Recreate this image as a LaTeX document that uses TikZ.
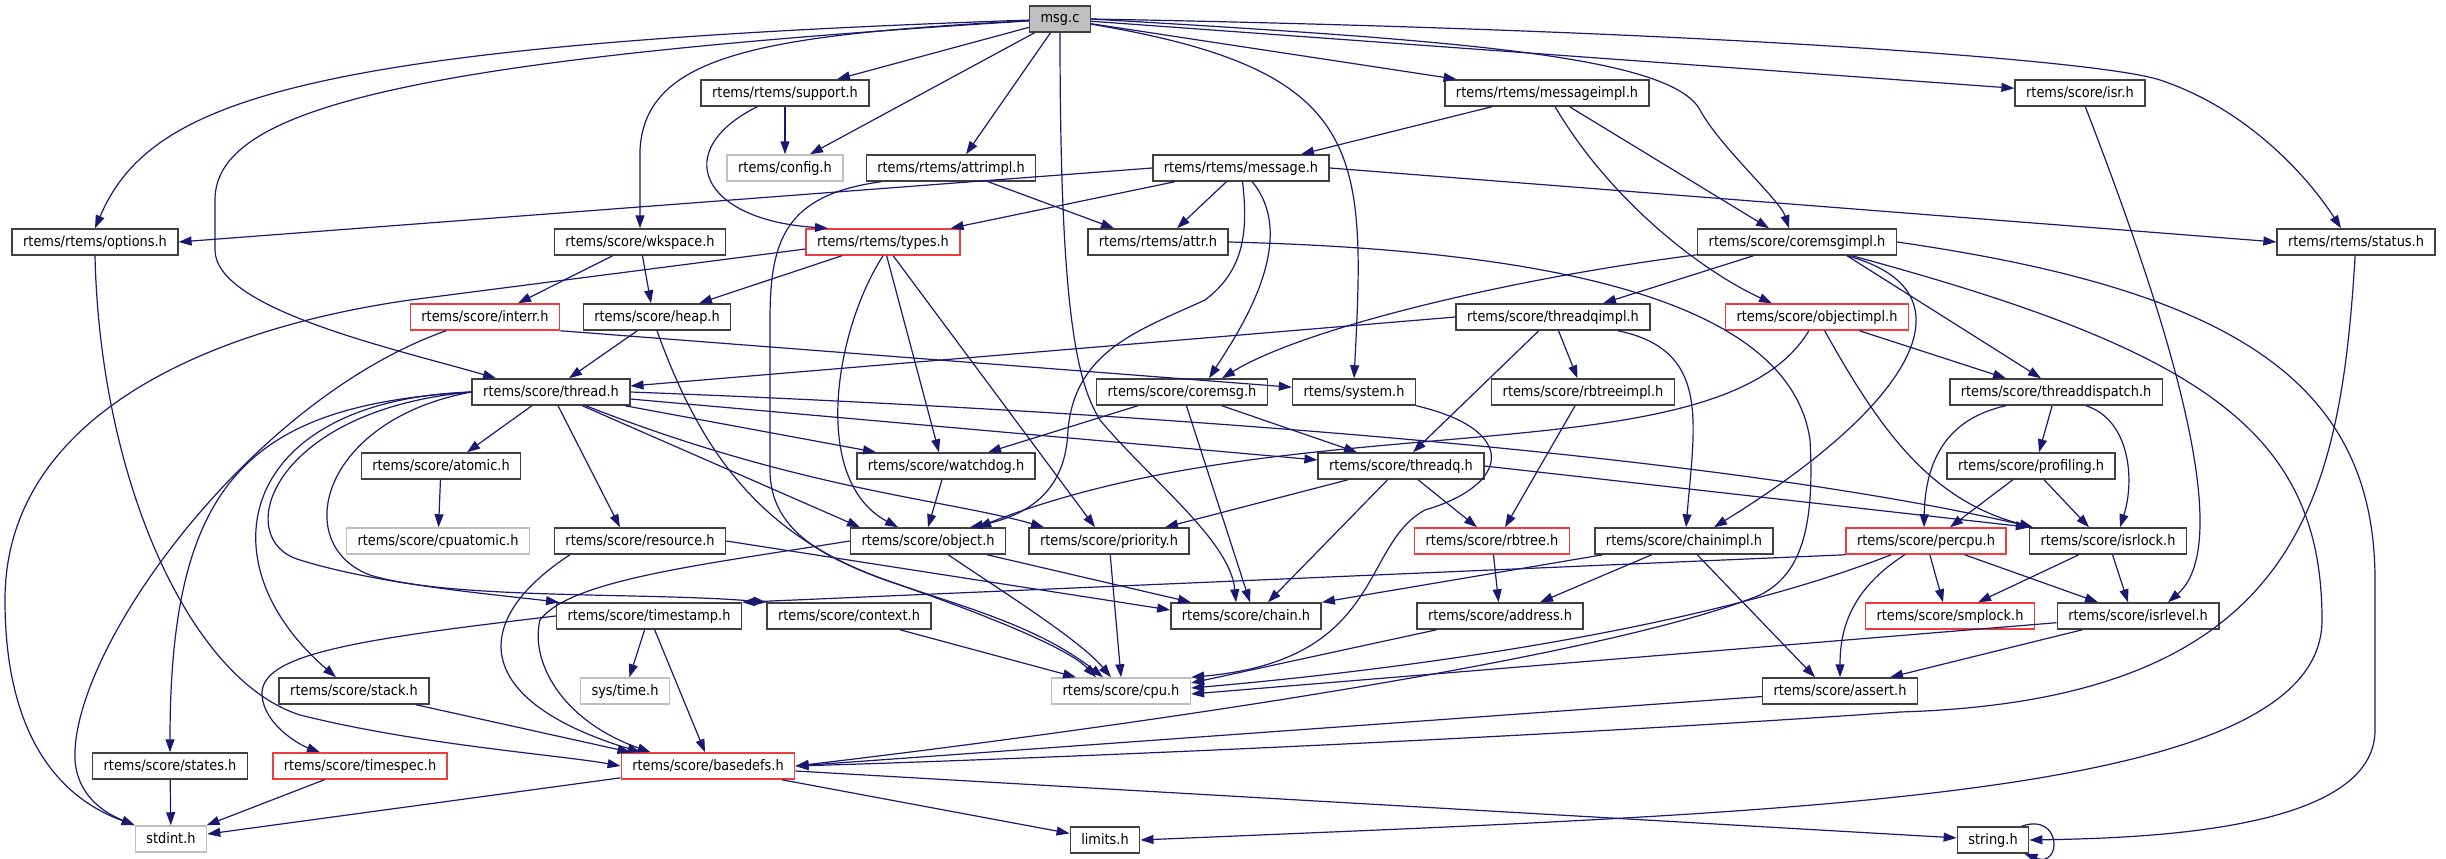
\documentclass[tikz,border=0pt]{standalone}
\usepackage{fontspec}
\setmainfont{DejaVu Sans}[FakeStretch=0.89]
\usetikzlibrary{arrows.meta}
\definecolor{edgeblue}{HTML}{191970}
\definecolor{frame}{HTML}{404040}
\definecolor{sysframe}{HTML}{BFBFBF}
\definecolor{redframe}{HTML}{F03C3C}
\def\hdr{\fontsize{14.5pt}{17pt}\selectfont}

\begin{document}
\begin{tikzpicture}[x=1pt, y=-1pt, >={Triangle[length=13pt, width=9pt]},
  header/.style={draw=frame, line width=1.5pt, fill=white, font=\hdr, minimum height=26pt,
    inner xsep=11pt, inner ysep=0pt, text height=11pt, text depth=3pt},
  redheader/.style={header, draw=redframe},
  sysheader/.style={header, draw=sysframe},
  incl/.style={->, edgeblue, line width=1.2pt}]
  \useasboundingbox (0,0) rectangle (2446,859);

  \node (msg) [header, fill=sysframe] at (1060,19) {msg.c};
  \node (support) [header] at (785,93) {rtems/rtems/support.h};
  \node (messageimpl) [header] at (1547,93) {rtems/rtems/messageimpl.h};
  \node (isr) [header] at (2080,93) {rtems/score/isr.h};
  \node (config) [sysheader] at (785,168) {rtems/config.h};
  \node (attrimpl) [header] at (951,168) {rtems/rtems/attrimpl.h};
  \node (message) [header] at (1241,168) {rtems/rtems/message.h};
  \node (options) [header] at (95,242) {rtems/rtems/options.h};
  \node (wkspace) [header] at (640,242) {rtems/score/wkspace.h};
  \node (types) [redheader] at (883,242) {rtems/rtems/types.h};
  \node (attr) [header] at (1158,242) {rtems/rtems/attr.h};
  \node (coremsgimpl) [header] at (1797,242) {rtems/score/coremsgimpl.h};
  \node (status) [header] at (2356,242) {rtems/rtems/status.h};
  \node (interr) [redheader] at (485,317) {rtems/score/interr.h};
  \node (heap) [header] at (657,317) {rtems/score/heap.h};
  \node (threadqimpl) [header] at (1553,317) {rtems/score/threadqimpl.h};
  \node (objectimpl) [redheader] at (1817,317) {rtems/score/objectimpl.h};
  \node (thread) [header] at (551,392) {rtems/score/thread.h};
  \node (coremsg) [header] at (1182,392) {rtems/score/coremsg.h};
  \node (system) [header] at (1354,392) {rtems/system.h};
  \node (rbtreeimpl) [header] at (1583,392) {rtems/score/rbtreeimpl.h};
  \node (threaddispatch) [header] at (2056,392) {rtems/score/threaddispatch.h};
  \node (atomic) [header] at (441,466) {rtems/score/atomic.h};
  \node (watchdog) [header] at (946,466) {rtems/score/watchdog.h};
  \node (threadq) [header] at (1401,466) {rtems/score/threadq.h};
  \node (profiling) [header] at (2031,466) {rtems/score/profiling.h};
  \node (cpuatomic) [sysheader] at (438,541) {rtems/score/cpuatomic.h};
  \node (resource) [header] at (640,541) {rtems/score/resource.h};
  \node (object) [header] at (928,541) {rtems/score/object.h};
  \node (priority) [header] at (1109,541) {rtems/score/priority.h};
  \node (rbtree) [redheader] at (1492,541) {rtems/score/rbtree.h};
  \node (chainimpl) [header] at (1684,541) {rtems/score/chainimpl.h};
  \node (percpu) [redheader] at (1926,541) {rtems/score/percpu.h};
  \node (isrlock) [header] at (2108,541) {rtems/score/isrlock.h};
  \node (timestamp) [header] at (649,616) {rtems/score/timestamp.h};
  \node (context) [header] at (849,616) {rtems/score/context.h};
  \node (chain) [header] at (1246,616) {rtems/score/chain.h};
  \node (address) [header] at (1500,616) {rtems/score/address.h};
  \node (smplock) [redheader] at (1950,616) {rtems/score/smplock.h};
  \node (isrlevel) [header] at (2138,616) {rtems/score/isrlevel.h};
  \node (stack) [header] at (354,691) {rtems/score/stack.h};
  \node (systime) [sysheader] at (625,691) {sys/time.h};
  \node (cpu) [sysheader] at (1121,691) {rtems/score/cpu.h};
  \node (assert) [header] at (1840,691) {rtems/score/assert.h};
  \node (states) [header] at (170,766) {rtems/score/states.h};
  \node (timespec) [redheader] at (360,766) {rtems/score/timespec.h};
  \node (basedefs) [redheader] at (708,766) {rtems/score/basedefs.h};
  \node (stdint) [sysheader] at (171,839) {stdint.h};
  \node (limits) [header] at (1105,840) {limits.h};
  \node (string) [header] at (1993,840) {string.h};

  \draw[incl] (msg) .. controls (300,45) and (150,100) .. (options.north);
  \draw[incl] (msg) .. controls (400,60) and (215,110) .. (215,200) -- (215,250) .. controls (215,310) and (400,350) .. ([xshift=-55pt]thread.north);
  \draw[incl] (msg) .. controls (760,35) and (645,55) .. (640,150) -- (wkspace.north);
  \draw[incl] (msg) -- ([xshift=52pt]support.north);
  \draw[incl] (msg) -- ([xshift=25pt]config.north);
  \draw[incl] (msg) -- ([xshift=15pt]attrimpl.north);
  \draw[incl] (msg.south) .. controls (1060,300) and (1075,380) .. (1100,420) .. controls (1150,480) and (1230,540) .. ([xshift=-10pt]chain.north);
  \draw[incl] (msg) -- (messageimpl);
  \draw[incl] (msg.east) .. controls (1450,40) and (1670,55) .. (1700,110) .. controls (1720,147) and (1780,200) .. ([xshift=-8pt]coremsgimpl.north);
  \draw[incl] (msg) .. controls (1366,70) and (1366,150) .. (system.north);
  \draw[incl] (msg) -- (isr);
  \draw[incl] (msg.east) .. controls (1700,30) and (2100,60) .. (2160,80) .. controls (2250,110) and (2310,180) .. ([xshift=-15pt]status.north);

  \draw[incl] (support) -- (config);
  \draw[incl] (support) .. controls (670,150) and (700,220) .. ([xshift=-55pt]types.north);
  \draw[incl] (attrimpl) -- ([xshift=-44pt]attr.north);
  \draw[incl] ([xshift=-70pt]attrimpl.south) .. controls (785,195) and (770,240) .. (770,320) -- (770,470) .. controls (770,590) and (980,580) .. ([xshift=-18pt]cpu.north);

  \draw[incl] (message.west) -- (options.east);
  \draw[incl] (message) -- ([xshift=-10pt]types.north east);
  \draw[incl] (message) -- ([xshift=19pt]attr.north);
  \draw[incl] (message.east) -- (status.west);
  \draw[incl] (message) .. controls (1300,240) and (1240,330) .. ([xshift=27pt]coremsg.north);
  \draw[incl] (message) .. controls (1248,230) and (1245,270) .. (1205,300) .. controls (1140,330) and (1075,350) .. (1068,430) .. controls (1066,490) and (1030,515) .. ([xshift=42pt]object.north);
  \draw[incl] (messageimpl) -- ([xshift=60pt]message.north);
  \draw[incl] (messageimpl) -- ([xshift=-28pt]coremsgimpl.north);
  \draw[incl] (messageimpl) .. controls (1610,200) and (1700,270) .. ([xshift=-45pt]objectimpl.north);
  \draw[incl] (isr) .. controls (2160,300) and (2240,540) .. ([xshift=30pt]isrlevel.north);

  \draw[incl] (options.south) .. controls (100,480) and (190,680) .. (300,715) .. controls (420,745) and (560,755) .. (basedefs.west);
  \draw[incl] (wkspace) -- ([xshift=33pt]interr.north);
  \draw[incl] (wkspace) -- ([xshift=-6pt]heap.north);
  \draw[incl] ([yshift=-7pt]types.west) -- (410,300) .. controls (200,330) and (5,420) .. (5,600) .. controls (5,760) and (80,805) .. (stdint.north west);
  \draw[incl] (types) -- ([xshift=42pt]heap.north);
  \draw[incl] (types.south) .. controls (835,330) and (810,480) .. ([xshift=-30pt]object.north);
  \draw[incl] (types) -- ([xshift=-7pt]watchdog.north);
  \draw[incl] (types) -- ([xshift=-14pt]priority.north);
  \draw[incl] (attr.east) .. controls (1550,250) and (1790,300) .. (1810,440) .. controls (1815,530) and (1800,575) .. (1760,595) .. controls (1600,660) and (1100,730) .. (basedefs.east);

  \draw[incl] (coremsgimpl) .. controls (1500,280) and (1300,330) .. ([xshift=40pt]coremsg.north);
  \draw[incl] (coremsgimpl) -- ([xshift=50pt]threadqimpl.north);
  \draw[incl] ([xshift=50pt]coremsgimpl.south) -- ([xshift=-15pt]threaddispatch.north);
  \draw[incl] ([xshift=50pt]coremsgimpl.south) .. controls (1975,290) and (1920,400) .. ([xshift=30pt]chainimpl.north);
  \draw[incl] ([xshift=55pt]coremsgimpl.south) .. controls (2200,350) and (2322,430) .. (2322,620) .. controls (2322,800) and (1800,812) .. (limits.east);
  \draw[incl] (coremsgimpl.east) .. controls (2230,290) and (2375,380) .. (2375,580) -- (2375,730) .. controls (2375,830) and (2150,838) .. (string.east);
  \draw[incl] (status) .. controls (2340,500) and (2300,700) .. (1900,712) .. controls (1500,740) and (1000,760) .. (basedefs.east);

  \draw[incl] (interr) .. controls (250,400) and (70,650) .. (75,760) .. controls (78,800) and (110,815) .. (stdint.north west);
  \draw[incl] (interr.south east) -- (system);
  \draw[incl] (heap) -- ([xshift=18pt]thread.north);
  \draw[incl] (heap.south) .. controls (700,450) and (760,540) .. (900,585) .. controls (1000,620) and (1070,650) .. ([xshift=-25pt]cpu.north);
  \draw[incl] (threadqimpl.west) -- ([yshift=6pt]thread.east);
  \draw[incl] (threadqimpl) -- ([xshift=12pt]threadq.north);
  \draw[incl] (threadqimpl) -- (rbtreeimpl);
  \draw[incl] ([xshift=65pt]threadqimpl.south) .. controls (1710,350) and (1695,420) .. ([xshift=2pt]chainimpl.north);
  \draw[incl] (objectimpl) .. controls (1720,480) and (1300,400) .. ([xshift=50pt]object.north);
  \draw[incl] (objectimpl) -- ([xshift=-50pt]threaddispatch.north);
  \draw[incl] (objectimpl) .. controls (1880,430) and (1930,500) .. ([xshift=4pt]isrlock.north west);

  \draw[incl] (thread) -- ([xshift=26pt]atomic.north);
  \draw[incl] (thread) -- ([xshift=-20pt]resource.north);
  \draw[incl] (thread.west) .. controls (240,400) and (200,560) .. ([xshift=-18pt]stack.north);
  \draw[incl] (thread.west) .. controls (250,405) and (170,480) .. (states.north);
  \draw[incl] (thread.west) .. controls (270,410) and (230,540) .. (300,560) .. controls (380,585) and (500,595) .. ([xshift=-90pt]timestamp.north);
  \draw[incl] (thread.west) .. controls (320,420) and (290,545) .. (370,575) .. controls (450,600) and (650,592) .. (context.north west);
  \draw[incl] (thread) -- ([xshift=-70pt]watchdog.north);
  \draw[incl] (thread) -- ([xshift=-68pt]object.north);
  \draw[incl] (thread) .. controls (800,490) and (950,500) .. ([xshift=-65pt]priority.north);
  \draw[incl] (thread) -- ([yshift=6pt]threadq.west);
  \draw[incl] (thread.east) .. controls (1100,410) and (1700,450) .. ([xshift=4pt]isrlock.north west);

  \draw[incl] (coremsg) -- ([xshift=42pt]watchdog.north);
  \draw[incl] (coremsg) -- ([xshift=-44pt]threadq.north);
  \draw[incl] (coremsg) -- ([xshift=4pt]chain.north);
  \draw[incl] (system.south east) .. controls (1520,430) and (1510,485) .. (1425,510) .. controls (1360,545) and (1385,660) .. (cpu.north east);
  \draw[incl] (rbtreeimpl) -- ([xshift=13pt]rbtree.north);
  \draw[incl] ([xshift=-50pt]threaddispatch.south) .. controls (1940,420) and (1925,470) .. ([xshift=-2pt]percpu.north);
  \draw[incl] (threaddispatch) -- ([xshift=8pt]profiling.north);
  \draw[incl] ([xshift=30pt]threaddispatch.south) .. controls (2130,420) and (2135,480) .. ([xshift=12pt]isrlock.north);

  \draw[incl] (atomic) -- (cpuatomic);
  \draw[incl] (watchdog) -- (object.north);
  \draw[incl] (threadq) -- ([xshift=56pt]priority.north);
  \draw[incl] (threadq) -- ([xshift=22pt]chain.north);
  \draw[incl] (threadq) -- ([xshift=-15pt]rbtree.north);
  \draw[incl] (threadq.east) -- (isrlock.north west);
  \draw[incl] (profiling) -- ([xshift=24pt]percpu.north);
  \draw[incl] (profiling) -- ([xshift=-19pt]isrlock.north);

  \draw[incl] ([xshift=-70pt]resource.south) .. controls (470,620) and (470,700) .. ([xshift=20pt]basedefs.north west);
  \draw[incl] (resource.east) -- ([yshift=6pt]chain.west);
  \draw[incl] (object.west) .. controls (700,565) and (570,580) .. (540,620) .. controls (530,660) and (560,720) .. ([xshift=30pt]basedefs.north west);
  \draw[incl] (object) -- ([xshift=-55pt]chain.north);
  \draw[incl] (object) .. controls (1000,590) and (1080,640) .. ([xshift=-10pt]cpu.north);
  \draw[incl] (priority) -- (cpu.north);
  \draw[incl] (rbtree) -- (address);
  \draw[incl] (chainimpl) -- (chain.north east);
  \draw[incl] (chainimpl) -- ([xshift=40pt]address.north);
  \draw[incl] (chainimpl) -- ([xshift=-25pt]assert.north);

  \draw[incl] (percpu.south west) -- (timestamp.north east);
  \draw[incl] (percpu) .. controls (1700,630) and (1400,670) .. ([yshift=3pt]cpu.east);
  \draw[incl] (percpu) .. controls (1850,590) and (1840,630) .. (assert.north);
  \draw[incl] (percpu) -- ([xshift=-7pt]smplock.north);
  \draw[incl] (percpu) -- ([xshift=-40pt]isrlevel.north);
  \draw[incl] (isrlock) -- ([xshift=28pt]smplock.north);
  \draw[incl] (isrlock) -- ([xshift=-10pt]isrlevel.north);

  \draw[incl] (timestamp) -- (systime);
  \draw[incl] (timestamp) -- ([xshift=-3pt]basedefs.north);
  \draw[incl] (timestamp.west) .. controls (350,640) and (260,655) .. (262,695) .. controls (264,725) and (300,745) .. ([xshift=-40pt]timespec.north);
  \draw[incl] (context) -- ([xshift=-45pt]cpu.north);
  \draw[incl] (address) -- ([yshift=8pt]cpu.east);
  \draw[incl] (isrlevel) -- ([yshift=-3pt]cpu.east);
  \draw[incl] (isrlevel) -- ([xshift=50pt]assert.north);
  \draw[incl] (stack) -- ([xshift=10pt]basedefs.north west);
  \draw[incl] (states) -- (stdint);
  \draw[incl] (timespec) -- (stdint);
  \draw[incl] (assert) -- (basedefs.east);
  \draw[incl] (basedefs) -- (stdint);
  \draw[incl] (basedefs) -- (limits);
  \draw[incl] (basedefs) -- (string);
  \draw[incl] ([xshift=-8pt]string.north east) .. controls (2062,812) and (2062,868) .. ([xshift=-5pt]string.south east);
\end{tikzpicture}
\end{document}
